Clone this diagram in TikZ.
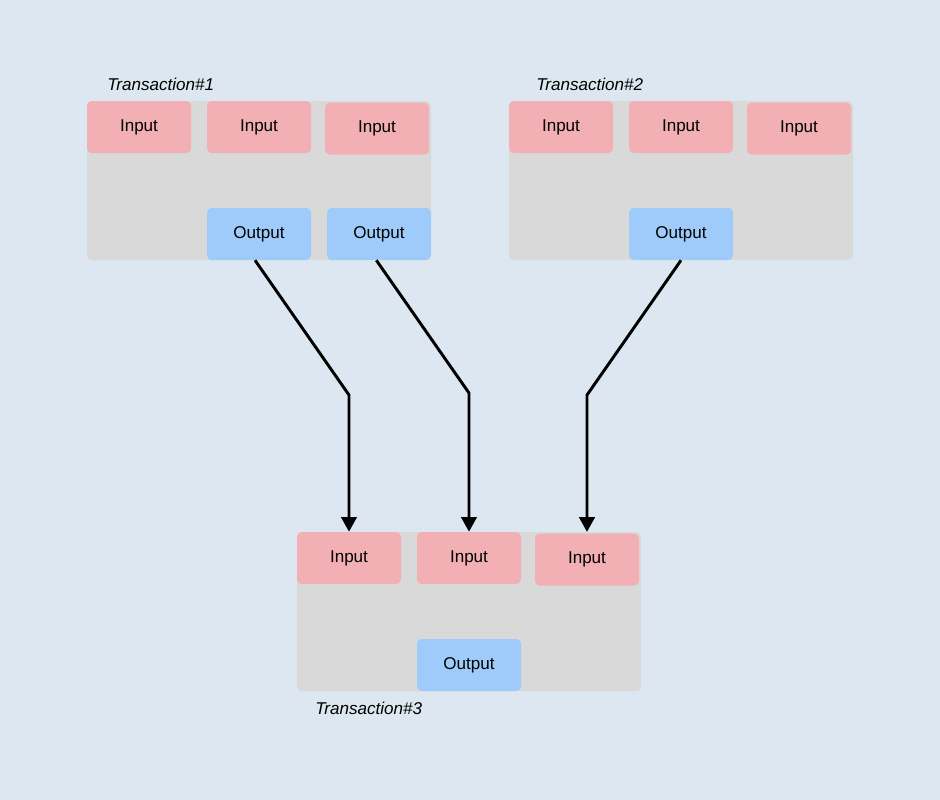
\documentclass[tikz,border=0pt]{standalone}
\usepackage{fontspec}
\setmainfont{Liberation Sans}
\usetikzlibrary{positioning, arrows.meta}
\definecolor{bgblue}{HTML}{DDE7F1}
\definecolor{txgray}{HTML}{D9D9D9}
\definecolor{inpink}{HTML}{F2AFB4}
\definecolor{outblue}{HTML}{9FCBFA}

\begin{document}
\begin{tikzpicture}[
		x=0.75pt, y=-0.75pt,
		txbox/.style={rectangle, rounded corners=3.5pt, fill=txgray, minimum width=258pt, minimum height=119.25pt},
		inbox/.style={rectangle, rounded corners=3.5pt, fill=inpink, minimum width=78pt, minimum height=39pt, font=\fontsize{12.8}{14}\selectfont},
		outbox/.style={inbox, fill=outblue},
		txlabel/.style={anchor=west, inner sep=0pt, font=\fontsize{12.8}{14}\selectfont\itshape},
		arrow/.style={line width=2.2pt, -{Triangle[width=11.5pt,length=11pt]}}
		]
		
		% Background
		\fill[bgblue] (0,0) rectangle (940,800);
		\useasboundingbox (0,0) rectangle (940,800);
		
		% Transactions
		\node[txbox] (T1) at (259,180.5) {};
		\node[txbox] (T2) at (681,180.5) {};
		\node[txbox] (T3) at (469,611.5) {};
		\node[txlabel] (t1) at (107,84) {Transaction\#1};
		\node[txlabel] (t2) at (536,84) {Transaction\#2};
		\node[txlabel] (t3) at (315,708) {Transaction\#3};
		
		% Inputs and outputs
		\node[inbox] (i11) at (139,127) {Input};
		\node[inbox] (i12) at (259,127) {Input};
		\node[inbox] (i13) at (377,128.5) {Input};
		\node[outbox] (o11) at (259,234) {Output};
		\node[outbox] (o12) at (379,234) {Output};
		
		\node[inbox] (i21) at (561,127) {Input};
		\node[inbox] (i22) at (681,127) {Input};
		\node[inbox] (i23) at (799,128.5) {Input};
		\node[outbox] (o21) at (681,234) {Output};
		
		\node[inbox] (i31) at (349,558) {Input};
		\node[inbox] (i32) at (469,558) {Input};
		\node[inbox] (i33) at (587,559.5) {Input};
		\node[outbox] (o31) at (469,665) {Output};
		
		% Edges
		\draw[arrow] ([xshift=-3pt]o11.south) -- (i31.north |- 0,395) -- (i31.north);
		\draw[arrow] ([xshift=-2pt]o12.south) -- (i32.north |- 0,393) -- (i32.north);
		\draw[arrow] (o21.south) -- (i33.north |- 0,395) -- ([yshift=1pt]i33.north);
		
	\end{tikzpicture}
\end{document}
